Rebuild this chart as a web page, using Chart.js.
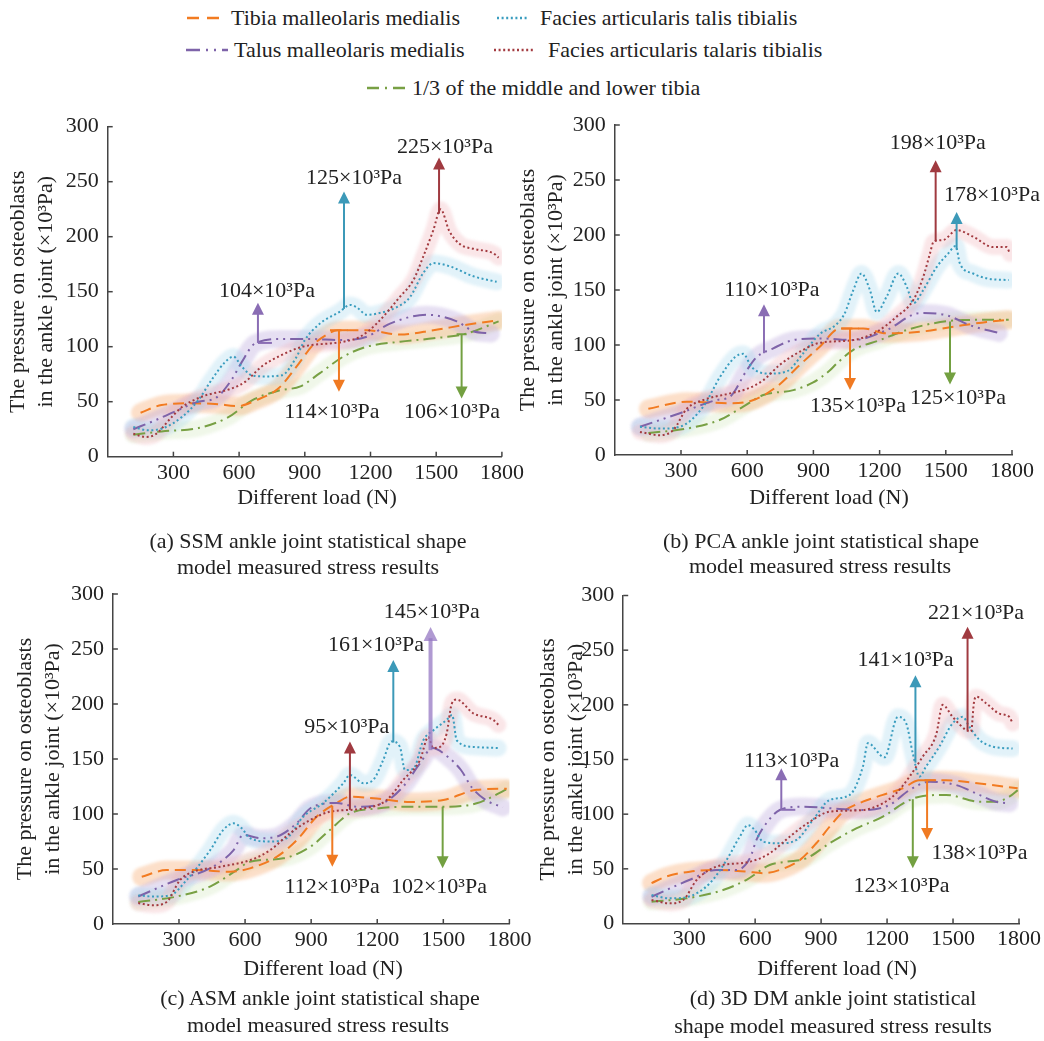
<!DOCTYPE html>
<html>
<head>
<meta charset="utf-8">
<script src="https://cdn.jsdelivr.net/npm/chart.js@4.4.1/dist/chart.umd.min.js"></script>
<style>
  html, body { margin: 0; padding: 0; background: #fff; }
  #page { position: relative; width: 1044px; height: 1041px; overflow: hidden;
          font-family: 'Liberation Serif', 'Times New Roman', serif; color: #222; }
  canvas.panel { position: absolute; left: 0; top: 0; }
  .txt, .leg { position: absolute; white-space: nowrap; font-family: 'Liberation Serif', 'Times New Roman', serif;
               font-size: 22px; line-height: 1; color: #222; }
  .txt { transform: translate(-50%, -50%); }
  .leg { transform: translateY(-50%); }
  svg.sample { position: absolute; overflow: visible; }
</style>
</head>
<body>
<div id="page"></div>
<script>
// ---------- tick labels and series names ----------
const loadTicks = [300, 600, 900, 1200, 1500, 1800];
const pressureTicks = [0, 50, 100, 150, 200, 250, 300];
const seriesNames = {
  tibia: 'Tibia malleolaris medialis',
  talis: 'Facies articularis talis tibialis',
  talus: 'Talus malleolaris medialis',
  talaris: 'Facies articularis talaris tibialis',
  third: '1/3 of the middle and lower tibia'
};

// ---------- (a) SSM : [load N, pressure ×10³Pa] ----------
const ssmTibia = [[150,40],[246,47],[368,48.5],[490,48],[596,46],[673,51],[779,62],[870,84],[935,101],[1000,111],[1050,115],[1183,115],[1335,111],[1487,115],[1639,120],[1785,124]];
const ssmTalis = [[117,27],[185,24],[254,26],[338,36],[414,51.5],[475,70],[536,86],[574,91],[612,82],[658,74],[718,73],[795,74],[860,90],[900,106],[969,121],[1061,132],[1106,138],[1136,136],[1183,129],[1228,130],[1320,136],[1380,145],[1441,167],[1487,176],[1563,173],[1670,164],[1776,159]];
const ssmTalus = [[117,25],[216,33],[307,41],[414,50],[490,53],[566,70],[612,86],[673,103],[794,107],[916,107],[1076,106],[1183,109],[1289,121],[1457,129],[1594,123],[1670,114],[1750,112]];
const ssmTalaris = [[117,21],[170,18],[216,20],[292,36],[338,45],[429,54.5],[566,62],[627,68],[703,82],[795,92.5],[890,100],[1076,104.5],[1152,109],[1228,121],[1335,145.5],[1396,160.6],[1441,182],[1487,206],[1520,225],[1560,205],[1610,193],[1670,189],[1760,185],[1785,181]];
const ssmThird = [[117,20],[246,23],[414,26],[551,36],[657,51],[779,60],[880,64],[969,76],[1076,91],[1183,100],[1335,104.5],[1487,107.6],[1639,112],[1785,123]];

// ---------- (b) PCA ----------
const pcaTibia = [[152,42],[326,48.5],[522,47],[628,50],[733,62],[839,82],[929,98.5],[1020,115],[1126,115],[1232,110.6],[1383,112],[1534,116.6],[1685,121],[1785,123]];
const pcaTalis = [[114,25.7],[205,24],[295,25.7],[401,44],[477,71],[545,89],[582,92],[620,80],[688,74],[779,76],[854,92.5],[929,110],[1000,118],[1040,128],[1081,150],[1118,165],[1156,150],[1187,130],[1232,144],[1285,165],[1323,153],[1353,138],[1398,150],[1459,171],[1510,183],[1545,190],[1564,174],[1624,165],[1685,160.6],[1785,159]];
const pcaTalus = [[114,25.7],[295,38],[462,50],[522,53],[598,77],[643,89],[718,97],[809,104.5],[929,106],[1081,104.5],[1232,113.6],[1383,129],[1504,127],[1609,118],[1740,111]];
const pcaTalaris = [[114,21],[205,18],[265,22.7],[326,42],[401,50],[522,56],[598,60],[673,68],[748,82],[839,94],[929,102],[1081,104.5],[1187,112],[1277,125.7],[1353,141],[1398,162],[1428,183],[1445,194],[1489,195.5],[1549,204.5],[1624,198.5],[1715,189],[1776,189],[1790,183]];
const pcaThird = [[152,20],[326,24],[477,32],[582,44],[673,54.5],[809,59],[899,66],[975,77],[1005,83],[1081,95.5],[1202,104.5],[1322,113.6],[1443,119.7],[1579,122.7],[1785,123]];

// ---------- (c) ASM ----------
const asmTibia = [[131,43],[244,49],[380,49],[532,47.5],[622,50.6],[743,61],[834,76],[925,97.5],[1016,110],[1076,115.7],[1197,114],[1349,111],[1500,112.7],[1651,122],[1788,123]];
const asmTalis = [[115,26],[183,25],[259,26],[335,40],[441,67],[501,85.5],[547,91.5],[585,87],[622,78],[713,75],[789,78],[864,97.5],[955,110],[1046,128],[1076,135.5],[1137,128],[1182,131],[1227,149],[1265,166],[1303,161],[1326,140],[1364,141],[1409,167],[1454,176],[1515,185.5],[1540,190],[1561,167],[1636,161],[1749,160]];
const asmTalus = [[115,25],[290,40],[441,50.6],[547,67],[592,81],[668,78],[743,79.4],[834,91.5],[895,105],[1016,110],[1107,106.6],[1227,110],[1318,125],[1394,146],[1450,160],[1520,152],[1580,140],[1630,124],[1690,113],[1770,106]];
const asmTalaris = [[115,19],[183,17],[244,20],[305,40],[365,47.5],[486,52],[622,58],[713,67],[804,82.5],[895,94.5],[985,102],[1137,105],[1243,112.7],[1318,131],[1394,149],[1432,170],[1454,160],[1485,161],[1515,173],[1538,200],[1561,204],[1636,191.5],[1727,185.5],[1750,181]];
const asmThird = [[115,20],[290,25],[441,34],[562,49],[622,56.6],[773,59.7],[895,70],[985,85.5],[1076,100.6],[1197,105],[1349,106.6],[1500,106.6],[1651,109.7],[1788,122.5]];

// ---------- (d) 3D DM ----------
const dmTibia = [[129,37],[197,43],[303,47.4],[424,49],[561,47.4],[636,46],[712,49],[803,58],[878,73.4],[939,88.6],[999,102],[1090,111.4],[1181,117.6],[1271,123.7],[1347,131],[1468,131],[1620,128],[1794,123.7]];
const dmTalis = [[129,26],[212,23],[296,24.5],[394,36.8],[470,58],[530,79.4],[568,90],[598,85.5],[636,74.8],[712,73.4],[788,76.4],[863,94.7],[939,113],[1030,117.6],[1090,143.5],[1113,165],[1188,152],[1249,189],[1287,183],[1317,155.7],[1347,134.3],[1377,143.5],[1438,161.8],[1498,183],[1544,189],[1574,180],[1620,168],[1680,161.8],[1771,160]];
const dmTalus = [[129,24.5],[303,40],[424,49],[515,49],[576,59.6],[606,76.4],[651,91.7],[712,103.8],[818,106.9],[939,105.4],[1090,103.8],[1211,108.4],[1302,122],[1393,129.7],[1513,126.7],[1620,117.6],[1695,111.4],[1756,110]];
const dmTalaris = [[129,21.5],[212,18.5],[273,21.5],[334,39.8],[424,52],[576,56.5],[666,64.2],[757,79.4],[848,93],[939,102.3],[1090,103.8],[1181,110],[1241,119],[1302,134.3],[1362,152.6],[1423,172.5],[1453,200],[1498,189],[1559,177],[1582,175.5],[1595,202],[1605,207.5],[1650,201.5],[1710,192],[1756,189],[1771,183]];
const dmThird = [[129,20],[288,23],[454,30.6],[561,40],[666,53.5],[742,56.5],[833,59.6],[939,73.4],[1060,87],[1181,97.7],[1287,111.4],[1347,116],[1468,117.6],[1620,111.4],[1695,111.4],[1756,116],[1794,122]];

// ---------- callouts: series, load, arrow tip value, text, text anchor [load, value] ----------
const ssmNotes = [
  { s: 'talus',   load: 686,  tip: 140, text: '104×10³Pa', at: [727, 150], foot: 'L' },
  { s: 'talis',   load: 1079, tip: 241, text: '125×10³Pa', at: [1125, 253] },
  { s: 'talaris', load: 1513, tip: 272, text: '225×10³Pa', at: [1540, 281] },
  { s: 'tibia',   load: 1056, tip: 59,  text: '114×10³Pa', at: [1024, 40], foot: 'T' },
  { s: 'third',   load: 1616, tip: 53,  text: '106×10³Pa', at: [1572, 40], foot: 't' }
];
const pcaNotes = [
  { s: 'talus',   load: 676,  tip: 137, text: '110×10³Pa', at: [712, 150] },
  { s: 'talaris', load: 1454, tip: 268, text: '198×10³Pa', at: [1464, 283.6] },
  { s: 'talis',   load: 1549, tip: 221, text: '178×10³Pa', at: [1709, 236] },
  { s: 'tibia',   load: 1066, tip: 59,  text: '135×10³Pa', at: [1102, 44], foot: 'T' },
  { s: 'third',   load: 1519, tip: 64,  text: '125×10³Pa', at: [1555, 52] }
];
const asmNotes = [
  { s: 'talus',   load: 1442, tip: 270, text: '145×10³Pa', at: [1448, 283], heavy: true },
  { s: 'talis',   load: 1273, tip: 240, text: '161×10³Pa', at: [1194, 253.6] },
  { s: 'talaris', load: 1076, tip: 166, text: '95×10³Pa',  at: [1062, 179] },
  { s: 'tibia',   load: 996,  tip: 52,  text: '112×10³Pa', at: [995, 33.6] },
  { s: 'third',   load: 1497, tip: 50.6, text: '102×10³Pa', at: [1480, 33.6] }
];
const dmNotes = [
  { s: 'talus',   load: 719,  tip: 142, text: '113×10³Pa', at: [766, 148], foot: 'L' },
  { s: 'talis',   load: 1329, tip: 227, text: '141×10³Pa', at: [1284, 241] },
  { s: 'talaris', load: 1566, tip: 271.5, text: '221×10³Pa', at: [1605, 284] },
  { s: 'tibia',   load: 1382, tip: 76.4, text: '138×10³Pa', at: [1620, 64], foot: 'T' },
  { s: 'third',   load: 1317, tip: 50.5, text: '123×10³Pa', at: [1266, 33.7] }
];

// ---------- styling ----------
const FONT = "'Liberation Serif', 'Times New Roman', serif";
const INK = '#222';
const AXIS = '#444';
const W = 1044, H = 1041;
const seriesStyle = {
  tibia:   { line: '#F27B21', arrow: '#F07A22', band: 'rgba(246,165,105,0.36)', bandW: 19, dash: [11, 6] },
  talis:   { line: '#3A9DBF', arrow: '#3C99B8', band: 'rgba(165,215,235,0.32)', bandW: 17, dash: [2, 2.6] },
  talus:   { line: '#7E63A9', arrow: '#8A6DB4', band: 'rgba(190,172,222,0.38)', bandW: 18, dash: [13, 5, 2, 5, 2, 5] },
  talaris: { line: '#A33B40', arrow: '#A03A40', band: 'rgba(238,178,182,0.32)', bandW: 16, dash: [2, 2.6] },
  third:   { line: '#78A044', arrow: '#73A041', band: 'rgba(208,230,186,0.32)', bandW: 17, dash: [12, 5, 2, 5] }
};
const drawOrder = ['talaris', 'talis', 'talus', 'tibia', 'third'];

const panels = [
  { box: 0,   area: [107.7, 126.7, 501.9, 456.7], notes: ssmNotes,
    series: { tibia: ssmTibia, talis: ssmTalis, talus: ssmTalus, talaris: ssmTalaris, third: ssmThird },
    xTitle: [317, 497], caption: [['(a) SSM ankle joint statistical shape', 308, 541], ['model measured stress results', 308, 567]] },
  { box: 510, area: [614.8, 125, 1012, 455], notes: pcaNotes,
    series: { tibia: pcaTibia, talis: pcaTalis, talus: pcaTalus, talaris: pcaTalaris, third: pcaThird },
    xTitle: [829, 497], caption: [['(b) PCA ankle joint statistical shape', 821, 541], ['model measured stress results', 820, 566]] },
  { box: 7,   area: [112.9, 594, 509.4, 924], notes: asmNotes,
    series: { tibia: asmTibia, talis: asmTalis, talus: asmTalus, talaris: asmTalaris, third: asmThird },
    xTitle: [323, 968], caption: [['(c) ASM ankle joint statistical shape', 320, 998], ['model measured stress results', 318, 1025]] },
  { box: 530, area: [623.2, 595.5, 1019.7, 923.5], notes: dmNotes,
    series: { tibia: dmTibia, talis: dmTalis, talus: dmTalus, talaris: dmTalaris, third: dmThird },
    xTitle: [837, 968], caption: [['(d) 3D DM ankle joint statistical', 833, 998], ['shape model measured stress results', 833, 1026]] }
];

const page = document.getElementById('page');

function addText(cls, text, x, y) {
  const d = document.createElement('div');
  d.className = cls; d.textContent = text;
  d.style.left = x + 'px'; d.style.top = y + 'px';
  page.appendChild(d);
}

// ---------- legend ----------
const legendRows = [
  { key: 'tibia',   x: 187, y: 18, w: 34, dash: '12 8',            tx: 231 },
  { key: 'talis',   x: 497, y: 18, w: 31, dash: '2 2.6',           tx: 540 },
  { key: 'talus',   x: 186, y: 50, w: 42, dash: '14 6 2 6 2 6',    tx: 234 },
  { key: 'talaris', x: 494, y: 50, w: 39, dash: '2 2.6',           tx: 548 },
  { key: 'third',   x: 367, y: 88, w: 38, dash: '12 6 2 6',        tx: 412 }
];
legendRows.forEach(r => {
  const ns = 'http://www.w3.org/2000/svg';
  const svg = document.createElementNS(ns, 'svg');
  svg.setAttribute('class', 'sample');
  svg.setAttribute('width', r.w); svg.setAttribute('height', 4);
  svg.style.left = r.x + 'px'; svg.style.top = (r.y - 2) + 'px';
  const ln = document.createElementNS(ns, 'line');
  ln.setAttribute('x1', 0); ln.setAttribute('y1', 2); ln.setAttribute('x2', r.w); ln.setAttribute('y2', 2);
  ln.setAttribute('stroke', seriesStyle[r.key].line); ln.setAttribute('stroke-width', 2.5);
  ln.setAttribute('stroke-dasharray', r.dash);
  svg.appendChild(ln); page.appendChild(svg);
  addText('leg', seriesNames[r.key], r.tx, r.y);
});

// ---------- helpers ----------
function valueAt(pts, x) {
  for (let i = 1; i < pts.length; i++) {
    if (x <= pts[i][0]) {
      const [x0, y0] = pts[i - 1], [x1, y1] = pts[i];
      return y0 + (y1 - y0) * (x - x0) / (x1 - x0);
    }
  }
  return pts[pts.length - 1][1];
}

function buildDatasets(series) {
  const lines = drawOrder.map((key, i) => {
    const st = seriesStyle[key];
    return {
      label: seriesNames[key], data: series[key].map(([x, y]) => ({ x, y })),
      borderColor: st.line, borderWidth: 2, borderDash: st.dash,
      pointRadius: 0, fill: false, cubicInterpolationMode: 'monotone', order: i
    };
  });
  const bands = drawOrder.map((key, i) => {
    const st = seriesStyle[key];
    return {
      label: seriesNames[key] + ' band', isBand: true, data: series[key].map(([x, y]) => ({ x, y })),
      borderColor: st.band, borderWidth: st.bandW, borderCapStyle: 'round', borderJoinStyle: 'round',
      pointRadius: 0, fill: false, cubicInterpolationMode: 'monotone', order: 10 + i
    };
  });
  return lines.concat(bands);
}

// soft bands, inner ticks, arrows and callout text
const decor = {
  id: 'decor',
  beforeDatasetDraw(chart, args) {
    if (chart.data.datasets[args.index].isBand) { chart.ctx.save(); chart.ctx.filter = 'blur(1.5px)'; }
  },
  afterDatasetDraw(chart, args) {
    if (chart.data.datasets[args.index].isBand) chart.ctx.restore();
  },
  afterDraw(chart) {
    const { ctx, chartArea: a, scales: { x, y } } = chart;
    const p = chart.options.plugins.decor;
    ctx.save();
    ctx.strokeStyle = AXIS; ctx.lineWidth = 1.5;
    loadTicks.forEach(v => {
      const px = x.getPixelForValue(v);
      ctx.beginPath(); ctx.moveTo(px, a.bottom); ctx.lineTo(px, a.bottom - 5); ctx.stroke();
    });
    pressureTicks.forEach(v => {
      if (v === 0) return;
      const py = y.getPixelForValue(v);
      ctx.beginPath(); ctx.moveTo(a.left, py); ctx.lineTo(a.left + 5, py); ctx.stroke();
    });

    p.notes.forEach(n => {
      const st = seriesStyle[n.s];
      const px = x.getPixelForValue(n.load);
      const y0 = y.getPixelForValue(valueAt(p.series[n.s], n.load));
      const y1 = y.getPixelForValue(n.tip);
      const dir = y1 < y0 ? -1 : 1;
      const head = n.heavy ? { w: 14, l: 14 } : { w: 12, l: 12 };
      ctx.strokeStyle = n.heavy ? 'rgba(150,120,195,0.75)' : st.arrow;
      ctx.fillStyle = ctx.strokeStyle;
      ctx.lineWidth = n.heavy ? 4 : 2;
      ctx.beginPath(); ctx.moveTo(px, y0); ctx.lineTo(px, y1 - dir * head.l * 0.8); ctx.stroke();
      ctx.beginPath();
      ctx.moveTo(px, y1);
      ctx.lineTo(px - head.w / 2, y1 - dir * head.l);
      ctx.lineTo(px + head.w / 2, y1 - dir * head.l);
      ctx.closePath(); ctx.fill();
      ctx.lineWidth = 2;
      if (n.foot === 'T') { ctx.beginPath(); ctx.moveTo(px - 9, y0); ctx.lineTo(px + 9, y0); ctx.stroke(); }
      if (n.foot === 't') { ctx.beginPath(); ctx.moveTo(px - 5, y0); ctx.lineTo(px + 5, y0); ctx.stroke(); }
      if (n.foot === 'L') { ctx.beginPath(); ctx.moveTo(px, y0); ctx.lineTo(px + 14, y0); ctx.stroke(); }

      ctx.fillStyle = INK;
      ctx.font = '22px ' + FONT;
      ctx.textAlign = 'center'; ctx.textBaseline = 'middle';
      ctx.fillText(n.text, x.getPixelForValue(n.at[0]), y.getPixelForValue(n.at[1]));
    });
    ctx.restore();
  }
};

const yTitle = ['The pressure on osteoblasts', 'in the ankle joint (×10³Pa)'];

panels.forEach(p => {
  const cv = document.createElement('canvas');
  cv.className = 'panel'; cv.width = W; cv.height = H;
  page.appendChild(cv);
  const [L, T, R, B] = p.area;
  const xAxisH = 40;
  new Chart(cv.getContext('2d'), {
    type: 'line',
    data: { datasets: buildDatasets(p.series) },
    plugins: [decor],
    options: {
      responsive: false, animation: false, events: [], devicePixelRatio: 1,
      layout: { padding: { left: p.box, top: T, right: W - R, bottom: H - B - xAxisH } },
      plugins: { legend: { display: false }, tooltip: { enabled: false }, decor: { notes: p.notes, series: p.series } },
      scales: {
        x: {
          type: 'linear', min: 0, max: 1800,
          afterBuildTicks(s) { s.ticks = loadTicks.map(v => ({ value: v })); },
          afterFit(s) { s.height = xAxisH; },
          grid: { display: false, drawTicks: false },
          border: { display: true, color: AXIS, width: 1.5 },
          ticks: { font: { family: FONT, size: 22 }, color: INK, padding: 3, maxRotation: 0, autoSkip: false,
                   callback: v => String(v) }
        },
        y: {
          type: 'linear', min: 0, max: 300,
          afterBuildTicks(s) { s.ticks = pressureTicks.map(v => ({ value: v })); },
          afterFit(s) { s.width = L - p.box; },
          grid: { display: false, drawTicks: false },
          border: { display: true, color: AXIS, width: 1.5 },
          ticks: { font: { family: FONT, size: 22 }, color: INK, padding: 9, callback: v => String(v) },
          title: { display: true, text: yTitle, color: INK,
                   font: { family: FONT, size: 22, lineHeight: 1.27 }, padding: { top: 4, bottom: 0 } }
        }
      }
    }
  });
  addText('txt', 'Different load (N)', p.xTitle[0], p.xTitle[1]);
  p.caption.forEach(c => addText('txt', c[0], c[1], c[2]));
});
</script>
</body>
</html>
